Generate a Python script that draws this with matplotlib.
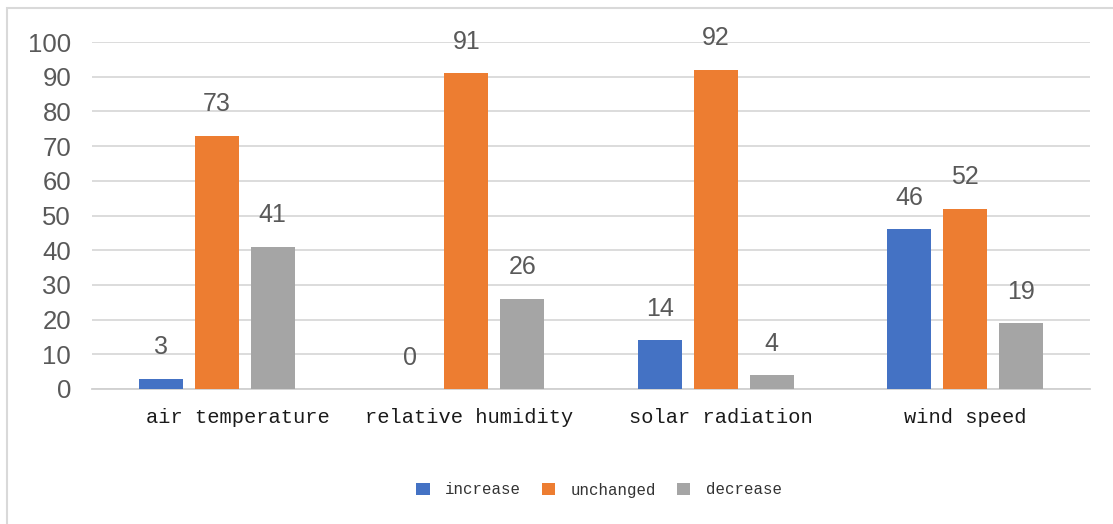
import numpy as np
import matplotlib.pyplot as plt
import matplotlib.transforms as mtransforms
from matplotlib.patches import Rectangle

categories = ['air temperature', 'relative humidity', 'solar radiation', 'wind speed']
increase = [3, 0, 14, 46]
unchanged = [73, 91, 92, 52]
decrease = [41, 26, 4, 19]
series_names = ['increase', 'unchanged', 'decrease']
colors = ['#4472C4', '#ED7D31', '#A5A5A5']

W, H = 1113, 524
fig = plt.figure(figsize=(W / 100, H / 100), dpi=100)

# outer chart frame (only top and left edges fall inside the picture)
fig.patches.append(Rectangle((7 / W, -0.1), 1.2, 1 - 8 / H + 0.1, transform=fig.transFigure,
                             fill=False, edgecolor='#D9D9D9', linewidth=1.5))

ax = fig.add_axes([92 / W, 1 - 389 / H, (1090 - 92) / W, (389 - 42) / H])
x = np.arange(len(categories))
width = 0.176
step = 0.224

for i, (vals, name, c) in enumerate(zip([increase, unchanged, decrease], series_names, colors)):
    pos = x + (i - 1) * step
    ax.bar(pos, vals, width, color=c, label=name, zorder=3)
    for xp, v in zip(pos, vals):
        ax.annotate(str(v), (xp, v), xytext=(0, 14), textcoords='offset points',
                    ha='center', va='bottom', fontsize=18, color='#595959',
                    family='Liberation Sans')

ax.set_xlim(-0.5, 3.5)
ax.set_ylim(0, 100)
ax.set_yticks(range(0, 101, 10))
ax.grid(axis='y', color='#D9D9D9', linewidth=1.3, zorder=0)
ax.set_axisbelow(True)
for s in ['top', 'right', 'left']:
    ax.spines[s].set_visible(False)
ax.spines['bottom'].set_color('#D0D0D0')
ax.spines['bottom'].set_linewidth(1.3)
ax.tick_params(axis='both', length=0)
ax.tick_params(axis='y', pad=15, labelsize=18.5, labelcolor='#595959')
for lab in ax.get_yticklabels():
    lab.set_family('Liberation Sans')
ax.set_xticks(x)
ax.set_xticklabels(categories, family='Liberation Mono', fontsize=14.7, color='#1a1a1a')
ax.tick_params(axis='x', pad=14)

# the original labels sit a little off-centre (first one clearly to the right)
shifts = [0.21, 0.03, 0.05, 0.0]
for lab, dx in zip(ax.get_xticklabels(), shifts):
    lab.set_transform(lab.get_transform() + mtransforms.ScaledTranslation(dx, 0, fig.dpi_scale_trans))

fig.legend(loc='center', bbox_to_anchor=(599 / W, 1 - 490 / H), ncol=3, frameon=False,
           prop={'family': 'Liberation Mono', 'size': 11.3}, handlelength=0.85, handleheight=0.85,
           columnspacing=1.3, handletextpad=1.0, labelcolor='#333333')

fig.savefig('out.png', dpi=100)
